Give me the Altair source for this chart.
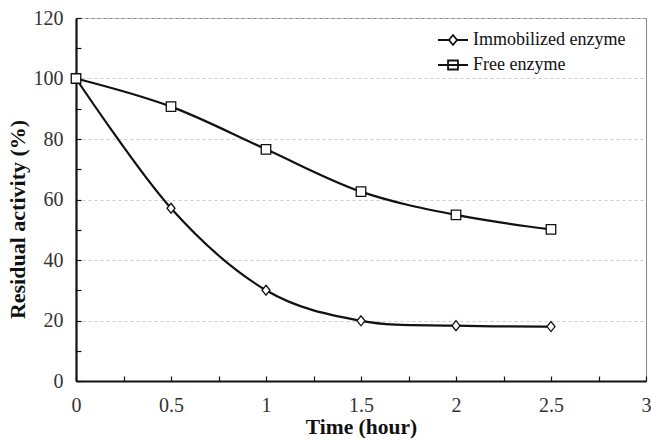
import altair as alt
import pandas as pd

times = [0, 0.5, 1, 1.5, 2, 2.5]
immobilized = [100, 57.1, 30.0, 19.9, 18.3, 18.0]
free = [100, 90.7, 76.6, 62.6, 54.9, 50.1]
series_names = ["Immobilized enzyme", "Free enzyme"]
x_label_values = [0, 0.5, 1, 1.5, 2, 2.5, 3]
x_tick_values = [0, 0.25, 0.5, 0.75, 1, 1.25, 1.5, 1.75, 2, 2.25, 2.5, 2.75, 3]
y_label_values = [0, 20, 40, 60, 80, 100, 120]
y_tick_values = [0, 10, 20, 30, 40, 50, 60, 70, 80, 90, 100, 110, 120]

rows = []
for t, a, b in zip(times, immobilized, free):
    rows.append({"time": t, "value": a, "series": series_names[0]})
    rows.append({"time": t, "value": b, "series": series_names[1]})
df = pd.DataFrame(rows)

FONT = "Liberation Serif, Times New Roman, serif"
W, H = 570, 363

xscale = alt.Scale(domain=[0, 3], nice=False, zero=False)
yscale = alt.Scale(domain=[0, 120], nice=False)

base = alt.Chart(df)

lines = base.mark_line(interpolate="cardinal", color="#111", strokeWidth=2.2).encode(
    x=alt.X("time:Q", scale=xscale, axis=alt.Axis(
        values=x_label_values, format=".1~f", title="Time (hour)", grid=False, ticks=False,
        domainColor="#111", domainWidth=2.2, labelPadding=14,
        labelFont=FONT, labelFontSize=20, labelColor="#333",
        titleFont=FONT, titleFontSize=21.5, titleFontWeight="bold", titleColor="#111",
        titlePadding=1, labelFlush=False)),
    y=alt.Y("value:Q", scale=yscale, axis=alt.Axis(
        values=y_label_values, format="d", title="Residual activity (%)", grid=True,
        gridColor="#cccccc", gridDash=[3, 3], gridWidth=1, ticks=False,
        domainColor="#111", domainWidth=2.2, labelPadding=13,
        labelFont=FONT, labelFontSize=20, labelColor="#333",
        titleFont=FONT, titleFontSize=22, titleFontWeight="bold", titleColor="#111",
        titlePadding=4, titleY=201, labelFlush=False)),
    detail="series:N",
)

points = base.mark_point(filled=False, fill="white", fillOpacity=1, stroke="#111",
                         strokeWidth=1.3, opacity=1).encode(
    x=alt.X("time:Q", scale=xscale, axis=alt.Axis(
        orient="top", offset=-H, values=x_tick_values, labels=False, domain=False,
        ticks=True, tickSize=5, tickColor="#111", tickWidth=1.2, grid=False, title=None)),
    y=alt.Y("value:Q", scale=yscale, axis=alt.Axis(
        orient="right", offset=-W, values=y_tick_values, labels=False, domain=False,
        ticks=True, tickSize=5, tickColor="#111", tickWidth=1.2, grid=False, title=None)),
    shape=alt.Shape("series:N", scale=alt.Scale(
        domain=series_names,
        range=["M0,-1L0.8,0L0,1L-0.8,0Z", "square"]), legend=None),
    size=alt.Size("series:N", scale=alt.Scale(domain=series_names, range=[100, 90]), legend=None),
)

legend_layer = base.mark_point(opacity=0, stroke="#111").encode(
    x=alt.X("time:Q", scale=xscale, axis=None),
    y=alt.Y("value:Q", scale=yscale, axis=None),
    shape=alt.Shape("series:N", scale=alt.Scale(
        domain=series_names,
        range=["M-1,0L-0.27,0M0.27,0L1,0M0,-0.33L0.27,0L0,0.33L-0.27,0Z",
               "M-1,0L1,0M-0.33,-0.3L0.33,-0.3L0.33,0.3L-0.33,0.3Z"]),
        legend=alt.Legend(title=None, orient="none", legendX=361, legendY=10,
                          symbolSize=900, symbolStrokeColor="#111", symbolStrokeWidth=1.8,
                          symbolFillColor="white", symbolOpacity=1,
                          labelFont=FONT, labelFontSize=18, labelColor="#111",
                          labelOffset=4, rowPadding=1, clipHeight=24)),
)

chart = alt.layer(lines, points, legend_layer).resolve_scale(
    shape="independent", size="independent"
).resolve_axis(x="independent", y="independent").properties(
    width=W, height=H,
    autosize=alt.AutoSizeParams(type="none"),
    padding={"left": 76, "top": 18, "right": 6, "bottom": 60},
).configure(background="white", font=FONT).configure_view(stroke="#888", strokeWidth=1)

chart.save("out.html", embed_options={"renderer": "svg", "actions": False})
